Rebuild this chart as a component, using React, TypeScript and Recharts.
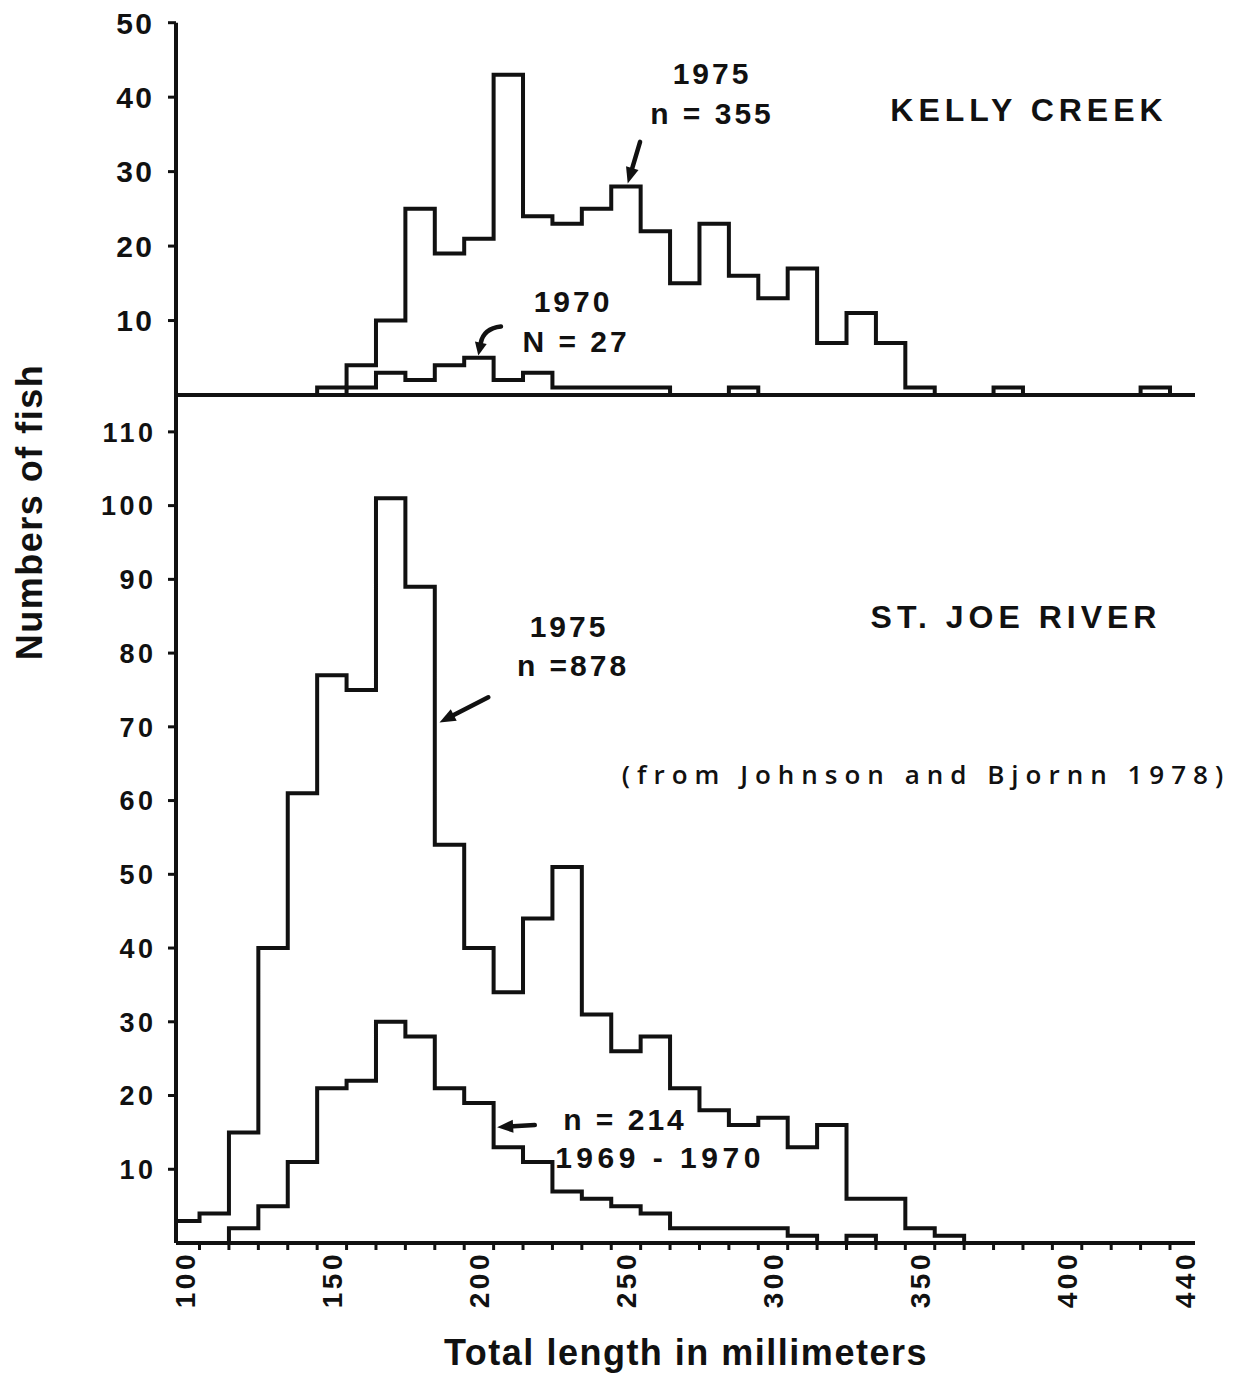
import React from 'react';
import { ComposedChart, Line, XAxis, YAxis, ReferenceLine } from 'recharts';

const FONT = '"Liberation Sans", Arial, Helvetica, sans-serif';
const INK = '#111';

// ---- data (bin centres in mm, counts per 10 mm class) ----
const kellyLengths = [150, 160, 170, 180, 190, 200, 210, 220, 230, 240, 250, 260, 270, 280, 290, 300, 310, 320, 330, 340, 350, 360, 370, 380, 390, 400, 410, 420, 430];
const kelly1975 = [1, 4, 10, 25, 19, 21, 43, 24, 23, 25, 28, 22, 15, 23, 16, 13, 17, 7, 11, 7, 1, 0, 0, 0, 0, 0, 0, 0, 0];
const kelly1970 = [0, 1, 3, 2, 4, 5, 2, 3, 1, 1, 1, 1, 0, 0, 1, 0, 0, 0, 0, 0, 0, 0, 0, 1, 0, 0, 0, 0, 1];

const stJoeLengths = [100, 110, 120, 130, 140, 150, 160, 170, 180, 190, 200, 210, 220, 230, 240, 250, 260, 270, 280, 290, 300, 310, 320, 330, 340, 350, 360];
const stJoe1975 = [3, 4, 15, 40, 61, 77, 75, 101, 89, 54, 40, 34, 44, 51, 31, 26, 28, 21, 18, 16, 17, 13, 16, 6, 6, 2, 1];
const stJoe1969 = [0, 0, 2, 5, 11, 21, 22, 30, 28, 21, 19, 13, 11, 7, 6, 5, 4, 2, 2, 2, 2, 1, 0, 1, 0, 0, 0];

const kellyTicks = [10, 20, 30, 40, 50];
const stJoeTicks = [10, 20, 30, 40, 50, 60, 70, 80, 90, 100, 110];
const lengthLabels = [100, 150, 200, 250, 300, 350, 400, 440];
const BIN = 10;
const X_DOMAIN: [number, number] = [97, 443.5];

const binEdges: number[] = [];
for (let e = 105; e <= 435; e += BIN) binEdges.push(e);
const bottomTicks = [...lengthLabels, ...binEdges].sort((a, b) => a - b);

function steps(centres: number[], counts: number[]) {
  const pts: { x: number; y: number }[] = [];
  pts.push({ x: centres[0] - BIN / 2, y: 0 });
  centres.forEach((c, i) => pts.push({ x: c - BIN / 2, y: counts[i] }));
  pts.push({ x: centres[centres.length - 1] + BIN / 2, y: 0 });
  return pts;
}

const kelly1975Steps = steps(kellyLengths, kelly1975);
const kelly1970Steps = steps(kellyLengths, kelly1970);
const stJoe1975Steps = steps(stJoeLengths, stJoe1975);
const stJoe1969Steps = steps(stJoeLengths, stJoe1969);

// ---- helpers ----
const Arrow = (p: any) => {
  const { x1, y1, x2, y2 } = p;
  if ([x1, y1, x2, y2].some((v) => typeof v !== 'number' || isNaN(v))) return <g />;
  const ang = Math.atan2(y2 - y1, x2 - x1);
  const L = 16;
  const W = 6.5;
  const bx = x2 - L * Math.cos(ang);
  const by = y2 - L * Math.sin(ang);
  const px = -Math.sin(ang) * W;
  const py = Math.cos(ang) * W;
  return (
    <g>
      <line x1={x1} y1={y1} x2={bx} y2={by} stroke={INK} strokeWidth={4.5} strokeLinecap="round" />
      <polygon points={`${x2},${y2} ${bx + px},${by + py} ${bx - px},${by - py}`} fill={INK} />
    </g>
  );
};

const CurvedArrow = (p: any) => {
  const { x1, y1, x2, y2 } = p;
  if ([x1, y1, x2, y2].some((v) => typeof v !== 'number' || isNaN(v))) return <g />;
  const cx = (x1 + x2) / 2 - 6;
  const cy = Math.min(y1, y2) + 2;
  const ang = Math.atan2(y2 - cy, x2 - cx);
  const L = 13;
  const W = 6;
  const bx = x2 - L * Math.cos(ang);
  const by = y2 - L * Math.sin(ang);
  const px = -Math.sin(ang) * W;
  const py = Math.cos(ang) * W;
  return (
    <g>
      <path d={`M${x1},${y1} Q${cx},${cy} ${bx},${by}`} fill="none" stroke={INK} strokeWidth={4.5} strokeLinecap="round" />
      <polygon points={`${x2},${y2} ${bx + px},${by + py} ${bx - px},${by - py}`} fill={INK} />
    </g>
  );
};

const BottomTick = (p: any) => {
  const { x, y, payload } = p;
  const v = payload.value;
  if (lengthLabels.includes(v)) {
    return (
      <g>
        <text
          x={x}
          y={y + 8}
          transform={`rotate(-90, ${x}, ${y + 8})`}
          textAnchor="end"
          dy="0.36em"
          fontFamily={FONT}
          fontWeight={700}
          fontSize={28}
          letterSpacing={3.5}
          fill={INK}
        >
          {v}
        </text>
      </g>
    );
  }
  return <line x1={x} x2={x} y1={y} y2={y + 7} stroke={INK} strokeWidth={3} />;
};

const makeYTick = (size: number, spacing: number) => (p: any) => {
  const { x, y, payload } = p;
  return (
    <text
      x={x + spacing}
      y={y}
      dy="0.36em"
      textAnchor="end"
      fontFamily={FONT}
      fontWeight={700}
      fontSize={size}
      letterSpacing={spacing}
      fill={INK}
    >
      {payload.value}
    </text>
  );
};
const KellyTick = makeYTick(30, 2.5);
const StJoeTick = makeYTick(27, 3.5);

const Note = ({ x, y, size = 30, weight = 700, spacing = 3, family = FONT, rotate = 0, children }: any) => (
  <div
    style={{
      position: 'absolute',
      left: x,
      top: y,
      transform: `translate(-50%, -50%) rotate(${rotate}deg)`,
      fontFamily: family,
      fontSize: size,
      fontWeight: weight,
      letterSpacing: spacing,
      whiteSpace: 'nowrap',
      color: INK,
      lineHeight: 1,
    }}
  >
    {children}
  </div>
);

const lineCommon = {
  type: 'stepAfter' as const,
  dataKey: 'y',
  stroke: INK,
  strokeWidth: 4,
  dot: false,
  activeDot: false,
  isAnimationActive: false,
  strokeLinejoin: 'miter' as const,
};

export default function App() {
  return (
    <div style={{ position: 'absolute', left: 0, top: 0, width: 1260, height: 1373, background: '#fff' }}>
      {/* Kelly Creek panel */}
      <div style={{ position: 'absolute', left: 0, top: 0 }}>
        <ComposedChart width={1260} height={400} margin={{ top: 22.7, right: 65, left: 0, bottom: 5 }}>
          <XAxis dataKey="x" type="number" domain={X_DOMAIN} allowDataOverflow hide />
          <YAxis
            type="number"
            domain={[0, 50]}
            ticks={kellyTicks}
            width={176}
            tickSize={8}
            tickMargin={16}
            axisLine={{ stroke: INK, strokeWidth: 4 }}
            tickLine={{ stroke: INK, strokeWidth: 3 }}
            tick={<KellyTick />}
          />
          <Line {...lineCommon} data={kelly1975Steps} name="1975" />
          <Line {...lineCommon} data={kelly1970Steps} name="1970" />
          <ReferenceLine y={0} stroke={INK} strokeWidth={4} />
          <ReferenceLine segment={[{ x: 254.8, y: 34 }, { x: 250.6, y: 28.4 }]} shape={Arrow} />
          <ReferenceLine segment={[{ x: 207.5, y: 9.2 }, { x: 199.8, y: 5.3 }]} shape={CurvedArrow} />
        </ComposedChart>
      </div>

      {/* St. Joe River panel */}
      <div style={{ position: 'absolute', left: 0, top: 380 }}>
        <ComposedChart width={1260} height={993} margin={{ top: 15, right: 65, left: 0, bottom: 60 }}>
          <XAxis
            dataKey="x"
            type="number"
            domain={X_DOMAIN}
            allowDataOverflow
            ticks={bottomTicks}
            interval={0}
            height={70}
            tickSize={0}
            tickMargin={0}
            tickLine={false}
            tick={<BottomTick />}
            axisLine={{ stroke: INK, strokeWidth: 4 }}
          />
          <YAxis
            type="number"
            domain={[0, 115]}
            ticks={stJoeTicks}
            width={176}
            tickSize={8}
            tickMargin={15}
            axisLine={{ stroke: INK, strokeWidth: 4 }}
            tickLine={{ stroke: INK, strokeWidth: 3 }}
            tick={<StJoeTick />}
          />
          <Line {...lineCommon} data={stJoe1975Steps} name="1975" />
          <Line {...lineCommon} data={stJoe1969Steps} name="1969-1970" />
          <ReferenceLine segment={[{ x: 203.2, y: 74 }, { x: 186.6, y: 70.6 }]} shape={Arrow} />
          <ReferenceLine segment={[{ x: 219, y: 16 }, { x: 206.2, y: 15.7 }]} shape={Arrow} />
        </ComposedChart>
      </div>

      {/* annotations */}
      <Note x={712} y={74}>1975</Note>
      <Note x={712} y={114}>n = 355</Note>
      <Note x={1029} y={110} size={32} spacing={5}>KELLY CREEK</Note>
      <Note x={573} y={302}>1970</Note>
      <Note x={576} y={342}>N = 27</Note>
      <Note x={1016} y={617} size={32} spacing={5}>ST. JOE RIVER</Note>
      <Note x={569} y={627}>1975</Note>
      <Note x={573} y={666}>n =878</Note>
      <Note x={926} y={774} size={26} weight={600} spacing={7} family={'"Open Sans", Arial, sans-serif'}>(from Johnson and Bjornn 1978)</Note>
      <Note x={625} y={1120}>n = 214</Note>
      <Note x={660} y={1158} spacing={4.5}>1969 - 1970</Note>
      <Note x={30} y={512} size={36} spacing={1.5} rotate={-90}>Numbers of fish</Note>
      <Note x={686} y={1353} size={36} spacing={1.5}>Total length in millimeters</Note>
    </div>
  );
}
